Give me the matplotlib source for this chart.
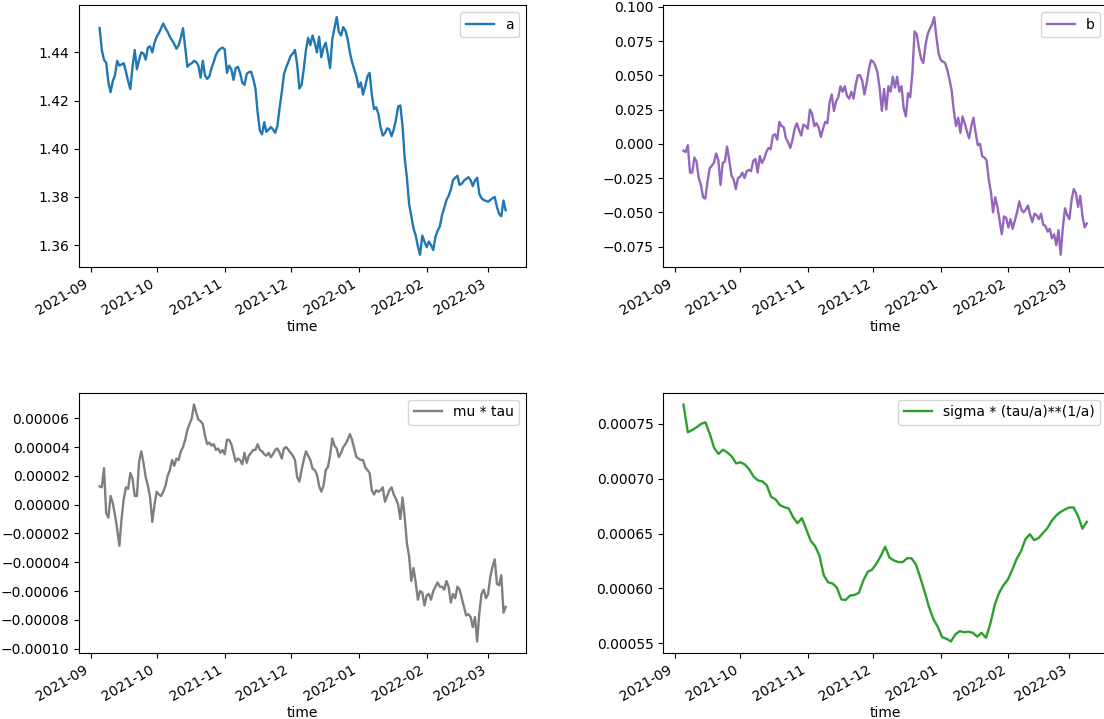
"""Fitted parameter paths over the rolling window: a, b, mu*tau and the
scaled sigma term, one panel each."""
import numpy as np
import pandas as pd
import matplotlib
matplotlib.use("Agg")
import matplotlib.pyplot as plt
import matplotlib.dates as mdates
from matplotlib.ticker import MultipleLocator

START, END = "2021-09-05", "2022-03-09"

# daily estimates of a
a_vals = [
    1.4501, 1.4410, 1.4369, 1.4357, 1.4275, 1.4235, 1.4280, 1.4305, 1.4365, 1.4345,
    1.4350, 1.4355, 1.4320, 1.4280, 1.4248, 1.4340, 1.4410, 1.4330, 1.4370, 1.4400,
    1.4395, 1.4370, 1.4420, 1.4425, 1.4400, 1.4440, 1.4465, 1.4480, 1.4500, 1.4520,
    1.4500, 1.4485, 1.4465, 1.4450, 1.4435, 1.4415, 1.4430, 1.4460, 1.4500, 1.4420,
    1.4340, 1.4350, 1.4355, 1.4365, 1.4360, 1.4345, 1.4295, 1.4365, 1.4305, 1.4290,
    1.4300, 1.4335, 1.4360, 1.4390, 1.4405, 1.4415, 1.4420, 1.4412, 1.4315, 1.4345,
    1.4330, 1.4286, 1.4335, 1.4340, 1.4315, 1.4275, 1.4265, 1.4310, 1.4318, 1.4320,
    1.4290, 1.4250, 1.4150, 1.4075, 1.4060, 1.4110, 1.4070, 1.4080, 1.4090, 1.4080,
    1.4066, 1.4095, 1.4170, 1.4235, 1.4310, 1.4338, 1.4360, 1.4385, 1.4395, 1.4410,
    1.4350, 1.4250, 1.4265, 1.4330, 1.4410, 1.4460, 1.4430, 1.4470, 1.4440, 1.4400,
    1.4465, 1.4380, 1.4420, 1.4440, 1.4390, 1.4335, 1.4455, 1.4500, 1.4546, 1.4485,
    1.4470, 1.4505, 1.4490, 1.4455, 1.4400, 1.4360, 1.4330, 1.4300, 1.4255, 1.4275,
    1.4225, 1.4260, 1.4300, 1.4315, 1.4225, 1.4165, 1.4172, 1.4145, 1.4090, 1.4055,
    1.4065, 1.4085, 1.4080, 1.4052, 1.4080, 1.4120, 1.4175, 1.4180, 1.4095, 1.3960,
    1.3880, 1.3770, 1.3720, 1.3670, 1.3640, 1.3595, 1.3560, 1.3640, 1.3615, 1.3592,
    1.3615, 1.3600, 1.3580, 1.3635, 1.3660, 1.3678, 1.3725, 1.3755, 1.3787, 1.3805,
    1.3830, 1.3870, 1.3880, 1.3888, 1.3850, 1.3855, 1.3868, 1.3875, 1.3882, 1.3870,
    1.3845, 1.3868, 1.3880, 1.3812, 1.3795, 1.3787, 1.3784, 1.3780, 1.3788, 1.3795,
    1.3800, 1.3759, 1.3730, 1.3720, 1.3785, 1.3745,
]

# daily estimates of b
b_vals = [
    -0.005, -0.006, -0.001, -0.021, -0.021, -0.010, -0.013, -0.025, -0.030, -0.039,
    -0.040, -0.028, -0.018, -0.016, -0.0137, -0.007, -0.012, -0.030, -0.014, -0.013,
    -0.002, -0.012, -0.023, -0.026, -0.033, -0.025, -0.024, -0.021, -0.025, -0.020,
    -0.019, -0.020, -0.0125, -0.011, -0.021, -0.009, -0.014, -0.011, -0.006, -0.003,
    -0.004, 0.006, 0.007, 0.003, 0.016, 0.013, 0.012, 0.004, 0.001, -0.003,
    0.003, 0.011, 0.015, 0.010, 0.006, 0.014, 0.013, 0.011, 0.025, 0.022,
    0.013, 0.015, 0.012, 0.005, 0.011, 0.016, 0.015, 0.030, 0.036, 0.024,
    0.031, 0.034, 0.042, 0.038, 0.042, 0.035, 0.033, 0.038, 0.033, 0.043,
    0.050, 0.050, 0.046, 0.036, 0.044, 0.054, 0.061, 0.060, 0.057, 0.052,
    0.040, 0.024, 0.040, 0.025, 0.042, 0.038, 0.049, 0.041, 0.049, 0.038,
    0.042, 0.026, 0.020, 0.037, 0.034, 0.052, 0.082, 0.080, 0.070, 0.062,
    0.059, 0.072, 0.080, 0.084, 0.087, 0.0924, 0.078, 0.066, 0.061, 0.060,
    0.059, 0.054, 0.047, 0.039, 0.024, 0.013, 0.019, 0.008, 0.020, 0.015,
    0.009, 0.004, 0.013, 0.019, 0.008, -0.001, 0.000, -0.009, -0.010, -0.012,
    -0.026, -0.035, -0.050, -0.039, -0.046, -0.056, -0.066, -0.053, -0.054, -0.061,
    -0.055, -0.062, -0.056, -0.050, -0.042, -0.048, -0.050, -0.048, -0.045, -0.052,
    -0.057, -0.051, -0.052, -0.055, -0.051, -0.059, -0.060, -0.064, -0.062, -0.069,
    -0.066, -0.074, -0.063, -0.081, -0.061, -0.047, -0.052, -0.055, -0.041, -0.033,
    -0.036, -0.046, -0.038, -0.053, -0.061, -0.058,
]

# daily mu * tau, in units of 1e-5
mu_tau_e5 = [
    1.27, 1.2, 2.53, -0.6, -0.9, 0.6, 0.1, -0.7, -1.7, -2.85,
    -1.0, 0.4, 1.2, 1.1, 2.2, 1.8, 0.6, 0.6, 3.0, 3.7,
    2.9, 1.9, 1.3, 0.5, -1.2, 0.0, 0.9, 0.7, 0.6, 0.9,
    1.3, 2.0, 2.4, 3.1, 2.7, 3.2, 3.1, 3.7, 4.0, 4.5,
    5.2, 5.6, 6.0, 6.95, 6.4, 5.9, 5.8, 5.6, 4.8, 4.2,
    4.3, 4.1, 4.2, 3.8, 3.9, 3.6, 3.8, 3.5, 4.5, 4.5,
    4.2, 3.6, 3.0, 3.2, 3.1, 2.8, 3.6, 2.9, 3.4, 3.6,
    3.8, 3.8, 4.2, 3.8, 3.7, 3.5, 3.4, 3.6, 3.3, 3.5,
    3.8, 3.9, 3.6, 3.2, 3.9, 4.0, 3.8, 3.6, 3.4, 3.1,
    1.9, 1.6, 2.4, 3.1, 3.7, 3.4, 3.1, 2.5, 2.4, 2.1,
    1.3, 0.9, 1.3, 2.4, 2.6, 3.4, 4.6, 4.1, 3.9, 3.3,
    3.6, 4.0, 4.2, 4.5, 4.9, 4.5, 3.9, 3.3, 3.2, 3.1,
    3.1, 2.6, 2.4, 2.2, 1.0, 0.7, 1.0, 0.9, 1.0, 1.2,
    0.2, 0.6, 1.0, 1.2, 0.7, 0.4, 0.0, -1.0, 0.5, -0.9,
    -2.7, -3.6, -5.3, -4.4, -5.4, -6.6, -6.0, -6.1, -7.0, -6.3,
    -6.2, -6.6, -6.0, -5.7, -5.4, -5.7, -5.7, -5.9, -5.3, -5.7,
    -6.8, -6.2, -6.5, -5.7, -5.9, -6.5, -7.1, -7.7, -7.6, -7.8,
    -8.5, -7.8, -9.5, -7.5, -6.2, -5.9, -6.5, -6.2, -5.0, -4.3,
    -3.8, -5.5, -5.6, -4.9, -7.5, -7.1,
]

# sigma * (tau/a)**(1/a) every other day, in units of 1e-5
sigma_e5 = [
    76.77, 74.24, 74.45, 74.70, 75.00, 75.15, 74.10, 72.80, 72.26, 72.65,
    72.40, 72.05, 71.40, 71.50, 71.30, 70.85, 70.20, 69.85, 69.76, 69.40,
    68.35, 68.12, 67.60, 67.40, 67.30, 66.50, 65.95, 66.40, 65.40, 64.35,
    63.87, 63.00, 61.20, 60.55, 60.45, 60.06, 59.00, 58.95, 59.35, 59.40,
    59.60, 60.70, 61.50, 61.70, 62.25, 62.96, 63.80, 62.80, 62.55, 62.40,
    62.40, 62.75, 62.75, 62.20, 61.00, 59.70, 58.30, 57.20, 56.50, 55.55,
    55.40, 55.16, 55.80, 56.10, 56.00, 56.05, 55.95, 55.60, 55.95, 55.50,
    56.80, 58.50, 59.60, 60.30, 60.82, 61.70, 62.70, 63.40, 64.50, 64.94,
    64.40, 64.60, 65.05, 65.50, 66.16, 66.65, 66.97, 67.20, 67.38, 67.38,
    66.60, 65.45, 66.07,
]


def series(vals, scale=1.0):
    idx = pd.date_range(START, END, periods=len(vals))
    return pd.Series(np.asarray(vals) * scale, index=idx)


panels = [
    (series(a_vals), "a", "#1f77b4", None),
    (series(b_vals), "b", "#9467bd", None),
    (series(mu_tau_e5, 1e-5), "mu * tau", "#7f7f7f", 2e-5),
    (series(sigma_e5, 1e-5), "sigma * (tau/a)**(1/a)", "#2ca02c", None),
]

W, H = 1104, 719
# axes boxes in pixels: left, top, right, bottom
boxes = [(79.3, 5.3, 526, 266.7), (663.3, 5.3, 1107, 266.7),
         (79.3, 392.7, 526, 653.3), (663.3, 392.7, 1107, 653.3)]

fig = plt.figure(figsize=(W / 100, H / 100), dpi=100)
for (s, label, color, ystep), (l, t, r, b) in zip(panels, boxes):
    ax = fig.add_axes([l / W, 1 - b / H, (r - l) / W, (b - t) / H])
    ax.plot(s.index, s.values, color=color, lw=1.7, label=label)
    if ystep:
        ax.yaxis.set_major_locator(MultipleLocator(ystep))
    ax.xaxis.set_major_locator(mdates.MonthLocator())
    ax.xaxis.set_major_formatter(mdates.DateFormatter("%Y-%m"))
    plt.setp(ax.get_xticklabels(), rotation=30, ha="right")
    ax.set_xlabel("time", labelpad=1.5)
    ax.legend(loc="upper right")

fig.savefig("out.png", dpi=100)
